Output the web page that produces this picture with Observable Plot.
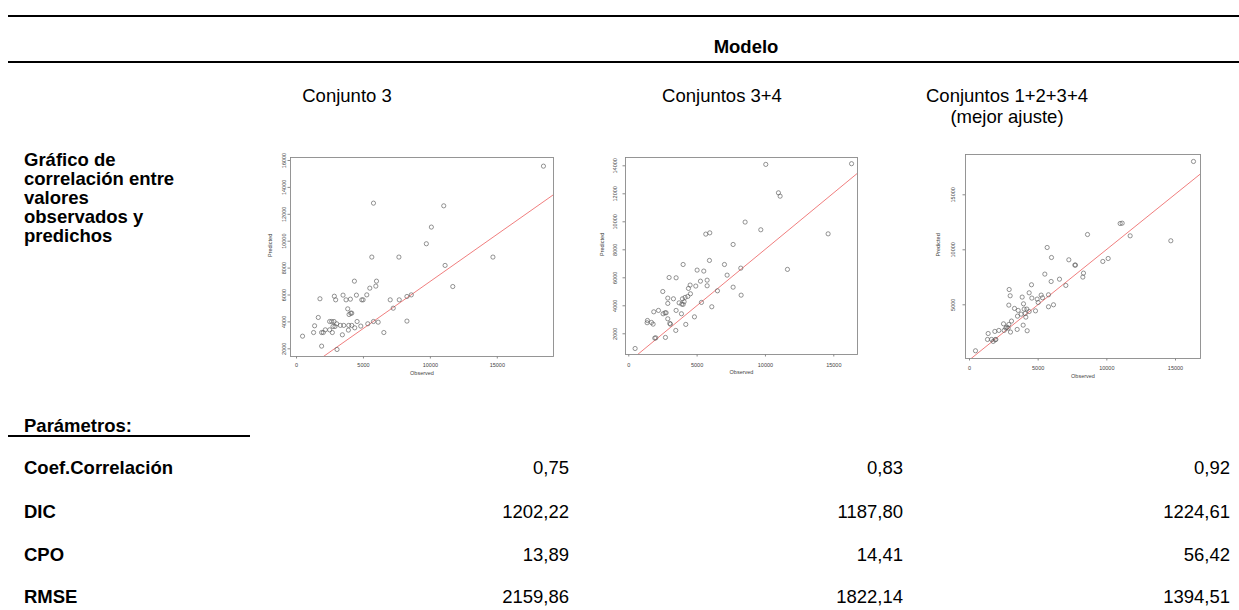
<!DOCTYPE html>
<html>
<head>
<meta charset="utf-8">
<script src="https://cdn.jsdelivr.net/npm/d3@7"></script>
<script src="https://cdn.jsdelivr.net/npm/@observablehq/plot@0.6"></script>
<style>
  html, body { margin: 0; padding: 0; background: #fff; }
  #page { position: relative; width: 1239px; height: 610px; overflow: hidden; font-family: "Liberation Sans", Arial, sans-serif; color: #000; }
  .t { position: absolute; white-space: nowrap; font-size: 18.5px; line-height: 20px; }
  .b { font-weight: bold; }
  .c { transform: translateX(-50%); text-align: center; }
  .r { transform: translateX(-100%); text-align: right; }
  .rule { position: absolute; background: #000; }
  .chart { position: absolute; }
</style>
</head>
<body>
<div id="page"></div>
<script>
// ---------- data ----------
const headerTitle = "Modelo";
const models = ["Conjunto 3", "Conjuntos 3+4", "Conjuntos 1+2+3+4"];
const modelNotes = ["", "", "(mejor ajuste)"];
const rowLabel = ["Gráfico de", "correlación entre", "valores", "observados y", "predichos"];
const paramsTitle = "Parámetros:";
const params = ["Coef.Correlación", "DIC", "CPO", "RMSE"];
const valuesM1 = [0.75, 1202.22, 13.89, 2159.86];
const valuesM2 = [0.83, 1187.80, 14.41, 1822.14];
const valuesM3 = [0.92, 1224.61, 56.42, 1394.51];

const xTicks = [0, 5000, 10000, 15000];
const yTicks1 = [2000, 4000, 6000, 8000, 10000, 12000, 14000, 16000];
const yTicks2 = [2000, 4000, 6000, 8000, 10000, 12000, 14000];
const yTicks3 = [5000, 10000, 15000];
const xLabel = "Observed";
const yLabel = "Predicted";

const obs1 = [450,1275,1350,1625,1750,1875,1875,2000,2150,2475,2475,2625,2675,2725,2800,2825,2925,2875,3000,3025,3275,3425,3475,3525,3700,3825,3875,3900,3925,4025,4050,4125,4125,4325,4350,4475,4525,4800,4875,4975,5250,5325,5475,5625,5750,5750,5925,5975,6100,6525,7000,7225,7650,7675,8250,8250,8575,9700,10075,11000,11100,11675,14675,18450];
const pred1 = [2940,3210,3710,4330,5720,2200,3210,3210,3410,4030,3410,4030,3210,3660,4030,5910,5640,3660,3860,1950,3740,3040,5990,3740,5640,4970,3390,3740,4550,5690,4650,4650,3740,7030,3560,5990,4030,3690,5640,5640,6010,3860,6510,8820,12830,4030,6660,7030,3980,3210,5640,5020,8820,5640,5890,4060,6010,9810,11050,12630,8200,6630,8820,15580];

const obs2 = [463,1341,1366,1659,1780,1829,1902,1976,2171,2488,2512,2659,2732,2683,2854,2854,2854,2951,3000,3049,3268,3463,3463,3439,3683,3854,3878,3927,3976,3976,4049,4122,4171,4317,4366,4488,4512,4805,4902,5000,5244,5317,5488,5634,5732,5732,5927,5902,6073,6488,7000,7195,7634,7634,8195,8220,8512,9659,10024,10951,11073,11610,14585,16300];
const pred2 = [950,2790,2950,2810,2690,3570,1690,1710,3670,5020,3430,3500,3500,1740,3070,4550,4170,6020,2740,2690,4500,6000,3670,2240,4210,3430,4120,4500,6950,4100,4290,4600,2670,4670,5240,5480,4860,3210,5410,6550,5760,4240,6480,9120,5830,5430,9210,7240,3930,5070,6950,6190,8380,5330,6690,4760,9980,9430,14100,12070,11830,6600,9140,14150];

const obs3 = [437,1311,1359,1602,1723,1845,1869,1917,2136,2476,2524,2645,2718,2815,2864,2888,2864,2961,2985,3058,3277,3471,3495,3544,3762,3835,3907,3932,3980,4053,4102,4175,4199,4344,4344,4514,4539,4806,4927,5000,5218,5315,5485,5655,5752,5752,5946,5970,6116,6553,7014,7233,7669,7718,8252,8300,8592,9708,10097,10970,11116,11698,14659,16310];
const pred3 = [820,1850,2390,1850,1670,2580,1820,1850,2670,3270,2670,2880,2970,2880,3210,6390,4970,5820,2520,3520,4670,2760,3970,4490,4150,5700,3150,5090,4610,4210,3880,4610,2640,4390,6090,6820,5610,4450,5520,5210,5880,5640,7790,10210,5910,4820,7120,9300,5000,7330,6760,9090,8610,8610,7520,7880,11390,8940,9210,12390,12420,11270,10820,18030];

// fitted line (slope, intercept) per panel
const fitSlope = [0.70, 0.805, 1.005];
const fitIntercept = [20, 0, 0];

// ---------- layout ----------
const page = document.getElementById("page");
function txt(s, x, y, cls) {
  const d = document.createElement("div");
  d.className = "t " + (cls || "");
  d.textContent = s;
  d.style.left = x + "px";
  d.style.top = (y - 11) + "px";
  page.appendChild(d);
  return d;
}
function rule(x, y, w, h) {
  const d = document.createElement("div");
  d.className = "rule";
  Object.assign(d.style, {left: x + "px", top: y + "px", width: w + "px", height: h + "px"});
  page.appendChild(d);
}
rule(8, 15, 1231, 2);
rule(8, 61, 1231, 2);
rule(8, 435, 242, 1.5);

txt(headerTitle, 746, 48, "b c");
const headX = [347, 722, 1007];
models.forEach((m, i) => {
  txt(m, headX[i], 97, "c");
  if (modelNotes[i]) txt(modelNotes[i], headX[i], 118, "c");
});
rowLabel.forEach((s, i) => txt(s, 24, 161 + i * 19, "b"));
txt(paramsTitle, 24, 427, "b");
const rowY = [469, 513, 556, 598];
const colR = [569, 903, 1230];
const fmt = v => v.toFixed(2).replace(".", ",");
params.forEach((p, i) => {
  txt(p, 24, rowY[i], "b");
  [valuesM1, valuesM2, valuesM3].forEach((vals, j) => txt(fmt(vals[i]), colR[j], rowY[i], "r"));
});

// ---------- scatter panels ----------
function scatter(cfg) {
  const data = cfg.obs.map((o, i) => ({obs: o, pred: cfg.pred[i]}));
  const [x0, x1] = cfg.xd;
  const fit = [x0, x1].map(x => ({x, y: cfg.b + cfg.a * x}));
  const chart = Plot.plot({
    width: cfg.w, height: cfg.h,
    marginLeft: cfg.ml, marginRight: cfg.mr, marginTop: cfg.mt, marginBottom: cfg.mb,
    style: {fontFamily: "Liberation Sans, Arial, sans-serif", fontSize: "5.5px", color: "#444", background: "#fff"},
    x: {domain: cfg.xd},
    y: {domain: cfg.yd},
    marks: [
      Plot.frame({stroke: "#8a8a8a", strokeWidth: 0.9}),
      Plot.axisX({ticks: xTicks, tickSize: 2.5, tickPadding: cfg.xpad, tickFormat: d3.format("d"), label: null, stroke: "#8a8a8a", fill: "#444"}),
      Plot.axisY({ticks: cfg.yt, tickSize: 2.5, tickPadding: cfg.ypad, tickRotate: -90, tickFormat: d3.format("d"), label: null, stroke: "#8a8a8a", fill: "#444"}),
      Plot.text([xLabel], {frameAnchor: "bottom", dy: cfg.xlab, fill: "#444", fontSize: 5.5}),
      Plot.text([yLabel], {frameAnchor: "left", dx: -cfg.ylab, rotate: -90, fill: "#444", fontSize: 5.5}),
      Plot.line(fit, {x: "x", y: "y", stroke: "#ee6f6f", strokeWidth: 0.9, clip: true}),
      Plot.dot(data, {x: "obs", y: "pred", r: 2.1, stroke: "#5a5a5a", strokeWidth: 0.65, fill: "none"})
    ]
  });
  const holder = document.createElement("div");
  holder.className = "chart";
  holder.style.left = cfg.left + "px";
  holder.style.top = cfg.top + "px";
  holder.appendChild(chart);
  page.appendChild(holder);
}

scatter({obs: obs1, pred: pred1, a: fitSlope[0], b: fitIntercept[0], xd: [-450, 19200], yd: [1428, 16223], yt: yTicks1,
  left: 262, top: 150, w: 296, h: 232, ml: 28, mr: 5, mt: 7, mb: 26, xpad: 4, ypad: 2, xlab: 18, ylab: 20});
scatter({obs: obs2, pred: pred2, a: fitSlope[1], b: fitIntercept[1], xd: [-240, 16735], yd: [521, 14593], yt: yTicks2,
  left: 590, top: 150, w: 270, h: 232, ml: 35, mr: 3, mt: 7, mb: 28, xpad: 6, ypad: 6, xlab: 19, ylab: 23});
scatter({obs: obs3, pred: pred3, a: fitSlope[2], b: fitIntercept[2], xd: [-291, 16820], yd: [118, 18664], yt: yTicks3,
  left: 925, top: 150, w: 280, h: 236, ml: 40, mr: 5, mt: 4, mb: 28, xpad: 5, ypad: 8, xlab: 19, ylab: 27});
</script>
</body>
</html>
